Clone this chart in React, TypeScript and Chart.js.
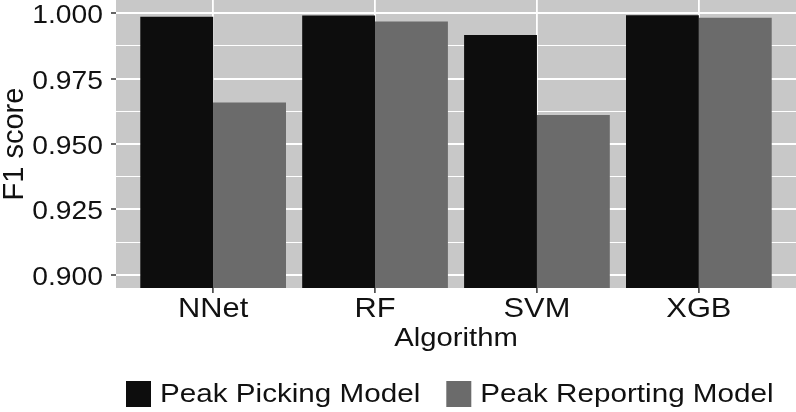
import React, { useEffect, useRef } from "react";
import { Chart, registerables } from "chart.js";

Chart.register(...registerables);

// ---- data ----
const CATEGORIES = ["NNet", "RF", "SVM", "XGB"];
const SERIES_NAMES = ["Peak Picking Model", "Peak Reporting Model"];
const PEAK_PICKING = [0.9987, 0.9992, 0.9917, 0.9993];
const PEAK_REPORTING = [0.9659, 0.9969, 0.9611, 0.9983];
const Y_MAJOR = [0.9, 0.925, 0.95, 0.975, 1.0];
const Y_MINOR = [0.9125, 0.9375, 0.9625, 0.9875];
const Y_MIN = 0.8949;
const Y_MAX = 1.0051;
const X_TITLE = "Algorithm";
const Y_TITLE = "F1 score";

// ---- styles ----
const FONT = '"Liberation Sans", Arial, Helvetica, sans-serif';
const TEXT_COLOR = "#111111";
const PANEL_BG = "#c8c8c8";
const COLORS = ["#0d0d0d", "#6b6b6b"];
const TICK_COLOR = "#333333";

function isMajor(v: number) {
  return Y_MAJOR.some((m) => Math.abs(m - v) < 1e-9);
}

function drawText(
  ctx: CanvasRenderingContext2D,
  text: string,
  x: number,
  y: number,
  size: number,
  sx: number,
  align: CanvasTextAlign
) {
  ctx.save();
  ctx.font = `${size}px ${FONT}`;
  ctx.fillStyle = TEXT_COLOR;
  ctx.textAlign = align;
  ctx.textBaseline = "alphabetic";
  ctx.translate(x, y);
  ctx.scale(sx, 1);
  ctx.fillText(text, 0, 0);
  ctx.restore();
}

const panelBgPlugin = {
  id: "panelBg",
  beforeDraw(chart: any) {
    const { ctx, chartArea } = chart;
    ctx.save();
    ctx.fillStyle = PANEL_BG;
    ctx.fillRect(
      chartArea.left,
      chartArea.top,
      chartArea.right - chartArea.left,
      chartArea.bottom - chartArea.top
    );
    ctx.restore();
  },
};

const textPlugin = {
  id: "ggText",
  afterDraw(chart: any) {
    const ctx: CanvasRenderingContext2D = chart.ctx;
    const ca = chart.chartArea;
    const xs = chart.scales.x;
    const ys = chart.scales.y;

    // y tick labels
    Y_MAJOR.forEach((v) => {
      drawText(ctx, v.toFixed(3), ca.left - 13, ys.getPixelForValue(v) + 10, 25, 1.13, "right");
    });
    // x tick labels
    CATEGORIES.forEach((c, i) => {
      drawText(ctx, c, xs.getPixelForValue(i), ca.bottom + 29, 28, 1.1, "center");
    });
    // x title
    drawText(ctx, X_TITLE, (ca.left + ca.right) / 2, ca.bottom + 57.5, 25, 1.17, "center");
    // y title
    ctx.save();
    ctx.font = `29px ${FONT}`;
    ctx.fillStyle = TEXT_COLOR;
    ctx.textAlign = "center";
    ctx.textBaseline = "alphabetic";
    ctx.translate(22.5, (ca.top + ca.bottom) / 2);
    ctx.rotate(-Math.PI / 2);
    ctx.fillText(Y_TITLE, 0, 0);
    ctx.restore();

    // legend
    const legSize = 26;
    const legSx = 1.14;
    let lx = 126;
    const boxTop = ca.bottom + 93;
    chart.data.datasets.forEach((ds: any, i: number) => {
      ctx.save();
      ctx.fillStyle = COLORS[i];
      ctx.fillRect(lx, boxTop, 25, 26);
      ctx.restore();
      drawText(ctx, ds.label, lx + 34, ca.bottom + 114, legSize, legSx, "left");
      ctx.save();
      ctx.font = `${legSize}px ${FONT}`;
      const w = ctx.measureText(ds.label).width * legSx;
      ctx.restore();
      lx += 34 + w + 26;
    });
  },
};

export default function App() {
  const canvasRef = useRef<HTMLCanvasElement | null>(null);

  useEffect(() => {
    document.body.style.margin = "0";
    const canvas = canvasRef.current;
    if (!canvas) return;
    const chart = new Chart(canvas, {
      type: "bar",
      data: {
        datasets: [
          {
            label: SERIES_NAMES[0],
            data: PEAK_PICKING.map((v, i) => ({ x: i, y: v })),
            backgroundColor: COLORS[0],
            borderWidth: 0,
            categoryPercentage: 0.9,
            barPercentage: 1.0,
          },
          {
            label: SERIES_NAMES[1],
            data: PEAK_REPORTING.map((v, i) => ({ x: i, y: v })),
            backgroundColor: COLORS[1],
            borderWidth: 0,
            categoryPercentage: 0.9,
            barPercentage: 1.0,
          },
        ],
      } as any,
      options: {
        responsive: false,
        animation: false,
        devicePixelRatio: 1,
        layout: { padding: 0 },
        plugins: {
          legend: { display: false },
          tooltip: { enabled: false },
          title: { display: false },
        },
        scales: {
          x: {
            type: "linear",
            min: -0.6,
            max: 3.6,
            offset: false,
            afterBuildTicks: (s: any) => {
              s.ticks = CATEGORIES.map((_, i) => ({ value: i }));
            },
            afterFit: (s: any) => {
              s.height = 124;
            },
            ticks: { display: false },
            grid: {
              offset: false,
              color: "#ffffff",
              lineWidth: 1.8,
              drawTicks: true,
              tickLength: 5,
              tickColor: TICK_COLOR,
              tickWidth: 1.5,
            },
            border: { display: false },
          },
          y: {
            type: "linear",
            min: Y_MIN,
            max: Y_MAX,
            beginAtZero: false,
            afterBuildTicks: (s: any) => {
              s.ticks = [...Y_MAJOR, ...Y_MINOR]
                .sort((a, b) => a - b)
                .map((v) => ({ value: v }));
            },
            afterFit: (s: any) => {
              s.width = 116;
            },
            ticks: { display: false },
            grid: {
              color: "#ffffff",
              lineWidth: (c: any) => (c.tick && isMajor(c.tick.value) ? 2 : 1),
              drawTicks: true,
              tickLength: 5,
              tickColor: (c: any) =>
                c.tick && isMajor(c.tick.value) ? TICK_COLOR : "rgba(0,0,0,0)",
              tickWidth: 1.5,
            },
            border: { display: false },
          },
        },
      } as any,
      plugins: [panelBgPlugin, textPlugin],
    });
    return () => chart.destroy();
  }, []);

  return (
    <div style={{ width: 796, height: 412, position: "relative" }}>
      <canvas ref={canvasRef} width={796} height={412} style={{ display: "block" }} />
    </div>
  );
}
